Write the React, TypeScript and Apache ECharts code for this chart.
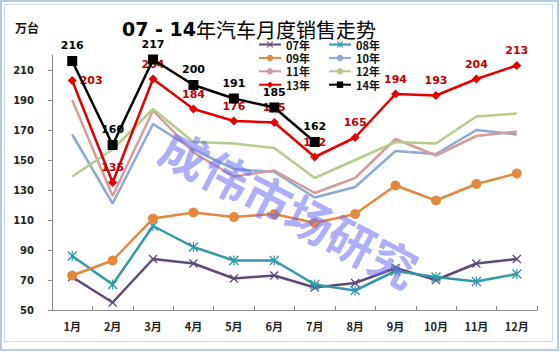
import React, { useEffect, useRef } from "react";
import * as echarts from "echarts";

const months = ["1月", "2月", "3月", "4月", "5月", "6月", "7月", "8月", "9月", "10月", "11月", "12月"];
const s07 = [72, 55, 84, 81, 71, 73, 65, 68, 78, 70, 81, 84];
const s08 = [86, 67, 106, 92, 83, 83, 67, 63, 76, 72, 69, 74];
const s09 = [73, 83, 111, 115, 112, 114, 108, 114, 133, 123, 134, 141];
const s10 = [167, 121, 174, 157, 144, 142, 125, 132, 156, 154, 170, 167];
const s11 = [190, 126, 183, 155, 139, 143, 128, 138, 164, 153, 166, 169];
const s12 = [139, 157, 184, 162, 161, 158, 138, 150, 162, 161, 179, 181];
const s13 = [203, 135, 204, 184, 176, 175, 152, 165, 194, 193, 204, 213];
const s14 = [216, 160, 217, 200, 191, 185, 162];
const seriesNames = ["07年", "08年", "09年", "10年", "11年", "12年", "13年", "14年"];
const colors = ["#60497a", "#3399a8", "#e2893f", "#8ea9d3", "#d49c9a", "#b5cc8e", "#e50000", "#000000"];

const X_PATH = "path://M0,1L1,0L5,4L9,0L10,1L6,5L10,9L9,10L5,6L1,10L0,9L4,5Z";
const STAR_PATH = "path://M0,1L1,0L5,4L9,0L10,1L6,5L10,9L9,10L5,6L1,10L0,9L4,5Z M4.4,0L5.6,0L5.6,10L4.4,10Z";

export default function App() {
  const ref = useRef<HTMLDivElement>(null);
  useEffect(() => {
    if (!ref.current) return;
    const chart = echarts.init(ref.current, null, { renderer: "svg" });
    const datasets = [s07, s08, s09, s10, s11, s12, s13, s14];
    const symbols: any[] = [X_PATH, STAR_PATH, "circle", "none", "none", "none", "diamond", "rect"];
    const sizes = [9, 10, 10, 0, 0, 0, 9, 10];
    const series = datasets.map((d, i) => {
      const base: any = {
        name: seriesNames[i],
        type: "line",
        data: d,
        symbol: symbols[i],
        symbolSize: sizes[i],
        showSymbol: symbols[i] !== "none",
        lineStyle: { color: colors[i], width: 2.5 },
        itemStyle: { color: colors[i] },
        z: 2 + i,
      };
      if (i === 6) {
        base.data = d.map((v, k) =>
          k === 0 ? { value: v, label: { position: "right", distance: 3 } } : v
        );
        base.label = {
          show: true,
          position: "top",
          color: "#c00000",
          fontSize: 11,
          fontWeight: "bold",
          fontFamily: "DejaVu Sans",
        };
      }
      if (i === 7) {
        base.label = {
          show: true,
          position: "top",
          color: "#000",
          fontSize: 11,
          fontWeight: "bold",
          fontFamily: "DejaVu Sans",
        };
      }
      return base;
    });
    const legendText = { fontSize: 11, fontWeight: "bold", color: "#111", lineHeight: 13, fontFamily: "Noto Sans CJK SC" };
    chart.setOption({
      animation: false,
      backgroundColor: "#fff",
      title: {
        text: "{a|07 - 14}{b|年汽车月度销售走势}",
        left: 244,
        top: 13,
        textAlign: "center",
        textStyle: {
          rich: {
            a: { fontSize: 19, fontWeight: "bold", fontFamily: "DejaVu Sans", color: "#000", lineHeight: 22 },
            b: { fontSize: 20, fontWeight: "normal", fontFamily: "Noto Sans CJK SC", color: "#000", lineHeight: 22 },
          },
        },
      },
      legend: [
        {
          data: ["07年", "09年", "11年", "13年"],
          orient: "vertical",
          left: 258,
          top: 38,
          itemWidth: 22,
          itemHeight: 8,
          itemGap: 0.4,
          padding: 0,
          textStyle: legendText,
        },
        {
          data: ["08年", "10年", "12年", "14年"],
          orient: "vertical",
          left: 328,
          top: 38,
          itemWidth: 22,
          itemHeight: 8,
          itemGap: 0.4,
          padding: 0,
          textStyle: legendText,
        },
      ],
      grid: { left: 52, right: 23, top: 55, bottom: 42, containLabel: false },
      xAxis: {
        type: "category",
        data: months,
        boundaryGap: true,
        axisLine: { lineStyle: { color: "#888", width: 1 } },
        axisTick: { show: true, inside: true, length: 4, lineStyle: { color: "#888" } },
        axisLabel: { fontSize: 11, fontWeight: "bold", color: "#222", margin: 10, fontFamily: "Noto Sans CJK SC" },
        splitLine: { show: false },
      },
      yAxis: {
        type: "value",
        min: 50,
        max: 220,
        interval: 20,
        axisLine: { show: true, lineStyle: { color: "#888", width: 1 } },
        axisTick: { show: true, inside: false, length: 4, lineStyle: { color: "#888" } },
        axisLabel: { fontSize: 10, fontWeight: "bold", color: "#222", margin: 18, showMaxLabel: false, fontFamily: "DejaVu Sans" },
        splitLine: { show: false },
      },
      series,
      graphic: [
        {
          type: "rect",
          shape: { x: 1, y: 1, width: 557, height: 349 },
          style: { fill: "none", stroke: "#b6cae3", lineWidth: 2 },
          silent: true,
        },
        {
          type: "rect",
          shape: { x: 4.5, y: 4.5, width: 548, height: 337 },
          style: { fill: "none", stroke: "#c8d7ea", lineWidth: 1 },
          silent: true,
        },
        {
          type: "text",
          left: 15,
          top: 21,
          style: { text: "万台", fontSize: 12, fontWeight: "bold", fill: "#111", fontFamily: "Noto Sans CJK SC" },
        },
        {
          type: "text",
          x: 290,
          y: 207,
          rotation: -0.48,
          z: 100,
          silent: true,
          style: {
            text: "成伟市场研究",
            fontSize: 47,
            fontWeight: "bold",
            fontFamily: "Noto Sans CJK SC",
            fill: "rgba(105,105,245,0.55)",
            align: "center",
            verticalAlign: "middle",
          },
        },
      ],
    });
    return () => chart.dispose();
  }, []);
  return (
    <div
      ref={ref}
      style={{ position: "absolute", left: 0, top: 0, width: 560, height: 352 }}
    />
  );
}
